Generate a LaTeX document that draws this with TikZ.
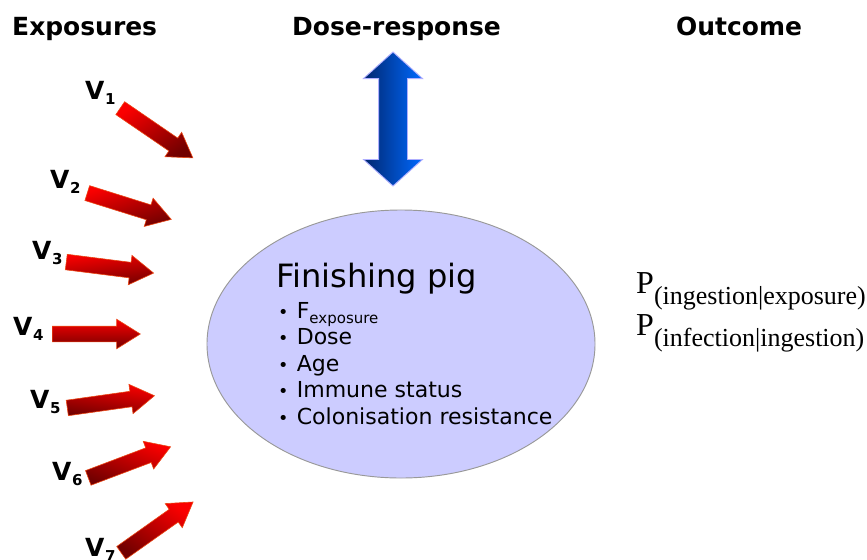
\documentclass[tikz,border=0pt]{standalone}
\usepackage{fontspec}
\setmainfont{DejaVu Sans}
\newfontfamily\timesfont{Liberation Serif}
\usetikzlibrary{shapes.arrows,shapes.geometric,positioning}
\definecolor{pigfill}{RGB}{204,204,255}
\definecolor{arrowred}{RGB}{250,0,0}
\definecolor{arrowdark}{RGB}{115,0,0}
\definecolor{arrowedge}{RGB}{235,70,20}
\definecolor{doseblue}{RGB}{0,105,255}
\definecolor{dosenavy}{RGB}{0,38,110}
\definecolor{doseedge}{RGB}{175,175,255}

\newcommand{\vname}[1]{V\hspace{0.5pt}\raisebox{-4.3pt}{\fontsize{12.8}{14}\selectfont #1}}
\newcommand{\psub}[1]{P\raisebox{-10.2pt}{\fontsize{22.2}{24}\selectfont #1}}
\newcommand{\pigitem}{{\fontsize{15}{15}\selectfont\textbullet}\hspace{7pt}}

\tikzset{
    heading/.style={anchor=base west, inner sep=0, font=\fontsize{21.3}{24}\selectfont\bfseries},
    vlabel/.style={anchor=base west, inner sep=0, font=\fontsize{21.3}{24}\selectfont\bfseries},
    redarrow/.style={single arrow, anchor=tail, draw=arrowedge, line width=0.5pt,
        minimum height=2.64cm, inner xsep=0, inner ysep=0.225cm,
        single arrow head extend=0.21cm, single arrow tip angle=64,
        top color=arrowred, bottom color=arrowdark},
    prob/.style={anchor=base west, inner sep=0, font=\timesfont\fontsize{27.3}{30}\selectfont}
}

\begin{document}
\begin{tikzpicture}[x=0.03cm, y=-0.03cm]
    \useasboundingbox (0,0) rectangle (867,559);

    % column headings
    \node[heading] (exposures) at (12,35) {Exposures};
    \node[heading] (doseresp) at (292,35) {Dose-response};
    \node[heading] (outcome) at (676,35) {Outcome};

    % exposure arrows
    \node[redarrow, rotate=-34.4, shading angle=34.4] (v1) at (120,108) {};
    \node[redarrow, rotate=-17.4, shading angle=17.4] (v2) at (87,193) {};
    \node[redarrow, rotate=-7.2, shading angle=7.2] (v3) at (66,262) {};
    \node[redarrow] (v4) at (52,334) {};
    \node[redarrow, rotate=8, shading angle=-8] (v5) at (67,408) {};
    \node[redarrow, rotate=20.7, shading angle=-20.7] (v6) at (88,478) {};
    \node[redarrow, rotate=35.3, shading angle=-35.3] (v7) at (121,553) {};

    \node[vlabel] (v1lab) at (85,99) {\vname{1}};
    \node[vlabel] (v2lab) at (50,188) {\vname{2}};
    \node[vlabel] (v3lab) at (32,259) {\vname{3}};
    \node[vlabel] (v4lab) at (13,335) {\vname{4}};
    \node[vlabel] (v5lab) at (30,408) {\vname{5}};
    \node[vlabel] (v6lab) at (52,480) {\vname{6}};
    \node[vlabel] (v7lab) at (85,556) {\vname{7}};

    % dose-response arrow
    \node[double arrow, rotate=90, draw=doseedge, line width=0.8pt,
        minimum height=4.02cm, inner xsep=0, inner ysep=0.42cm,
        double arrow head extend=0.45cm, double arrow tip angle=96,
        top color=doseblue, bottom color=dosenavy, shading angle=-90] (dose) at (393,119) {};

    % the pig
    \node[ellipse, draw=black!40, line width=0.8pt, fill=pigfill, inner sep=0,
        minimum width=11.64cm, minimum height=8.04cm] (pig) at (401,344) {};
    \node[anchor=base west, inner sep=0, font=\fontsize{27.4}{30}\selectfont] (pigtitle) at (276,287) {Finishing pig};
    \node[anchor=base west, inner sep=0, font=\fontsize{18.8}{22.6}\selectfont] (pigfacts) at (278,318) {%
        \begin{tabular}[t]{@{}l@{}}
        \pigitem F\raisebox{-4.5pt}{\fontsize{12.8}{14}\selectfont exposure}\\
        \pigitem Dose\\
        \pigitem Age\\
        \pigitem Immune status\\
        \pigitem Colonisation resistance
        \end{tabular}};

    % outcome probabilities
    \node[prob] (p1) at (636,293) {\psub{(ingestion|exposure)}};
    \node[prob] (p2) at (636,335) {\psub{(infection|ingestion)}};
\end{tikzpicture}
\end{document}
